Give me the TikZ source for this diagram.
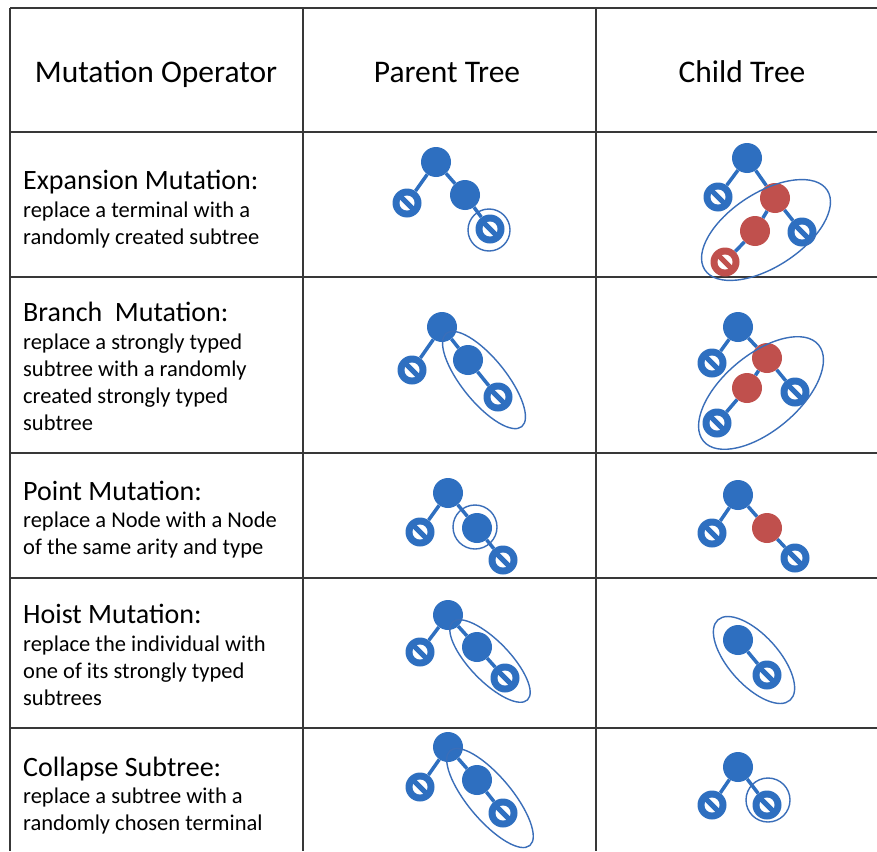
\documentclass[tikz,border=0pt]{standalone}
\usepackage{fontspec}
\setmainfont{Carlito}
\usetikzlibrary{shapes.geometric}

\definecolor{nodeblue}{RGB}{46,111,192}
\definecolor{nodered}{RGB}{192,80,77}
\definecolor{ringblue}{RGB}{58,110,185}
\definecolor{rulegray}{RGB}{56,56,56}

\tikzset{
  tablerule/.style={draw=rulegray, line width=1.8pt},
  hdr/.style={anchor=base, font=\fontsize{31.5}{38}\selectfont, inner sep=0pt},
  optitle/.style={anchor=base west, font=\fontsize{28}{34}\selectfont, inner sep=0pt},
  opdesc/.style={anchor=base west, font=\fontsize{22.5}{27}\selectfont, inner sep=0pt},
  inode/.style={circle, fill=nodeblue, minimum size=30pt, inner sep=0pt},
  rnode/.style={inode, fill=nodered},
  % terminal: a "no" sign, ring with a diagonal bar
  tnode/.style={circle, fill=#1, minimum size=29pt, inner sep=0pt,
    path picture={
      \fill[white] (path picture bounding box.center) circle[radius=7.5pt];
      \draw[#1, line width=5pt]
        ([shift={(-9pt,9pt)}]path picture bounding box.center) --
        ([shift={(9pt,-9pt)}]path picture bounding box.center);}},
  tnode/.default=nodeblue,
  rtnode/.style={tnode=nodered},
  link/.style={draw=nodeblue, line width=3.5pt},
  pickring/.style={circle, draw=ringblue, line width=1.4pt, minimum size=44pt, inner sep=0pt},
  pickoval/.style={ellipse, draw=ringblue, line width=1.4pt, inner sep=0pt},
}

\begin{document}
\begin{tikzpicture}[x=1pt,y=-1pt]
\useasboundingbox (0,0) rectangle (877,851);
\fill[white] (0,0) rectangle (877,851);

% table rules
\draw[tablerule] (10,8) -- (877,8);
\draw[tablerule] (10,8) -- (10,851);
\draw[tablerule] (303,8) -- (303,851);
\draw[tablerule] (596,8) -- (596,851);
\draw[tablerule, line width=2.4pt] (10,132) -- (877,132);
\foreach \yy in {277,453,578,728} \draw[tablerule] (10,\yy) -- (877,\yy);

% header
\node[hdr] (hop)  at (156,82) {Mutation Operator};
\node[hdr] (hpar) at (447,82) {Parent Tree};
\node[hdr] (hchi) at (742,82) {Child Tree};

% operator descriptions
\node[optitle] (t1)  at (23,189) {Expansion Mutation:};
\node[opdesc]  (t1a) at (23,217) {replace a terminal with a};
\node[opdesc]  (t1b) at (23,244) {randomly created subtree};

\node[optitle] (t2)  at (23,321) {Branch\ \ Mutation:};
\node[opdesc]  (t2a) at (23,349) {replace a strongly typed};
\node[opdesc]  (t2b) at (23,376) {subtree with a randomly};
\node[opdesc]  (t2c) at (23,403) {created strongly typed};
\node[opdesc]  (t2d) at (23,430) {subtree};

\node[optitle] (t3)  at (23,500) {Point Mutation:};
\node[opdesc]  (t3a) at (23,527) {replace a Node with a Node};
\node[opdesc]  (t3b) at (23,554) {of the same arity and type};

\node[optitle] (t4)  at (23,623) {Hoist Mutation:};
\node[opdesc]  (t4a) at (23,651) {replace the individual with};
\node[opdesc]  (t4b) at (23,678) {one of its strongly typed};
\node[opdesc]  (t4c) at (23,705) {subtrees};

\node[optitle] (t5)  at (23,776) {Collapse Subtree:};
\node[opdesc]  (t5a) at (23,803) {replace a subtree with a};
\node[opdesc]  (t5b) at (23,830) {randomly chosen terminal};

% ---- Expansion mutation ----
\node[inode] (e1r) at (436,162) {};
\node[tnode] (e1a) at (407,203) {};
\node[inode] (e1b) at (465,195) {};
\node[tnode] (e1c) at (490,229) {};
\draw[link] (e1r) -- (e1a);
\draw[link] (e1r) -- (e1b);
\draw[link] (e1b) -- (e1c);
\node[pickring, minimum size=42pt] (e1s) at (489,230) {};

\node[inode]  (e2r) at (747,158) {};
\node[tnode]  (e2a) at (718,197) {};
\node[rnode]  (e2b) at (775,198) {};
\node[rnode]  (e2c) at (755,231) {};
\node[tnode]  (e2d) at (802,232) {};
\node[rtnode] (e2e) at (725,262) {};
\draw[link] (e2r) -- (e2a);
\draw[link] (e2r) -- (e2b);
\draw[link] (e2b) -- (e2c);
\draw[link] (e2b) -- (e2d);
\draw[link] (e2c) -- (e2e);
\node[pickoval, minimum width=146pt, minimum height=74pt, rotate=33] (e2s) at (766,230) {};

% ---- Branch mutation ----
\node[inode] (b1r) at (442,327) {};
\node[tnode] (b1a) at (412,370) {};
\node[inode] (b1b) at (468,360) {};
\node[tnode] (b1c) at (498,397) {};
\draw[link] (b1r) -- (b1a);
\draw[link] (b1r) -- (b1b);
\draw[link] (b1b) -- (b1c);
\node[pickoval, minimum width=120pt, minimum height=44pt, rotate=-51] (b1s) at (484,380) {};

\node[inode] (b2r) at (738,327) {};
\node[tnode] (b2a) at (712,363) {};
\node[rnode] (b2b) at (767,358) {};
\node[rnode] (b2c) at (747,388) {};
\node[tnode] (b2d) at (795,392) {};
\node[tnode] (b2e) at (717,423) {};
\draw[link] (b2r) -- (b2a);
\draw[link] (b2r) -- (b2b);
\draw[link] (b2b) -- (b2c);
\draw[link] (b2b) -- (b2d);
\draw[link] (b2c) -- (b2e);
\node[pickoval, minimum width=150pt, minimum height=76pt, rotate=40] (b2s) at (761,393) {};

% ---- Point mutation ----
\node[inode] (p1r) at (448,493) {};
\node[tnode] (p1a) at (420,532) {};
\node[inode] (p1b) at (477,528) {};
\node[tnode] (p1c) at (503,560) {};
\draw[link] (p1r) -- (p1a);
\draw[link] (p1r) -- (p1b);
\draw[link] (p1b) -- (p1c);
\node[pickring] (p1s) at (475,527) {};

\node[inode] (p2r) at (738,495) {};
\node[tnode] (p2a) at (712,533) {};
\node[rnode] (p2b) at (767,528) {};
\node[tnode] (p2c) at (795,558) {};
\draw[link] (p2r) -- (p2a);
\draw[link] (p2r) -- (p2b);
\draw[link] (p2b) -- (p2c);

% ---- Hoist mutation ----
\node[inode] (h1r) at (448,615) {};
\node[tnode] (h1a) at (420,652) {};
\node[inode] (h1b) at (477,647) {};
\node[tnode] (h1c) at (505,678) {};
\draw[link] (h1r) -- (h1a);
\draw[link] (h1r) -- (h1b);
\draw[link] (h1b) -- (h1c);
\node[pickoval, minimum width=108pt, minimum height=40pt, rotate=-46] (h1s) at (490,661) {};

\node[inode] (h2r) at (738,640) {};
\node[tnode] (h2a) at (767,675) {};
\draw[link] (h2r) -- (h2a);
\node[pickoval, minimum width=108pt, minimum height=50pt, rotate=-48] (h2s) at (754,660) {};

% ---- Collapse subtree ----
\node[inode] (c1r) at (448,747) {};
\node[tnode] (c1a) at (420,787) {};
\node[inode] (c1b) at (477,780) {};
\node[tnode] (c1c) at (503,813) {};
\draw[link] (c1r) -- (c1a);
\draw[link] (c1r) -- (c1b);
\draw[link] (c1b) -- (c1c);
\node[pickoval, minimum width=124pt, minimum height=44pt, rotate=-50] (c1s) at (490,798) {};

\node[inode] (c2r) at (738,767) {};
\node[tnode] (c2a) at (712,805) {};
\node[tnode] (c2b) at (767,805) {};
\draw[link] (c2r) -- (c2a);
\draw[link] (c2r) -- (c2b);
\node[pickring] (c2s) at (768,800) {};
\end{tikzpicture}
\end{document}
